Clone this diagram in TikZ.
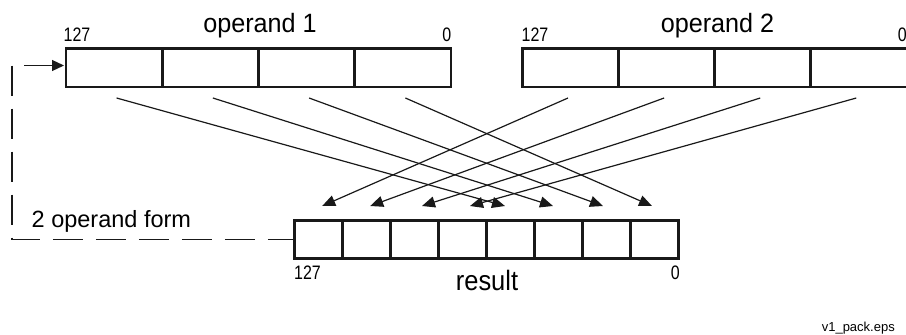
\documentclass[tikz,border=0pt]{standalone}
\usepackage{fontspec}
\setmainfont{Liberation Sans}
\usetikzlibrary{arrows.meta,calc}
\begin{document}
\begin{tikzpicture}[x=1pt,y=-1pt,
  cellbox/.style={draw=black!90, line width=2.6pt, minimum height=38.5pt, inner sep=0pt, outer sep=0pt},
  bigcell/.style={cellbox, minimum width=96.2pt},
  smallcell/.style={cellbox, minimum width=48pt, minimum height=38pt},
  conn/.style={line width=1.2pt, black!90, -{Triangle[length=13pt,width=11pt]}},
  feed/.style={line width=1.2pt, black!90, dash pattern=on 30pt off 13pt},
  numlbl/.style={inner sep=0pt, font=\fontsize{19.5}{19.5}\selectfont},
  biglbl/.style={inner sep=0pt, anchor=base, font=\fontsize{26.5}{26.5}\selectfont},
  txt/.style={inner sep=0pt}]
\path[use as bounding box] (0,0) rectangle (906,335);
\clip (0,0) rectangle (906,335);
% operand 1 cells
\node[bigcell] (a1) at (114.1,67.75) {};
\node[bigcell] (a2) at (210.4,67.75) {};
\node[bigcell] (a3) at (306.6,67.75) {};
\node[bigcell] (a4) at (402.9,67.75) {};
% operand 2 cells
\node[bigcell] (b1) at (570.5,67.75) {};
\node[bigcell] (b2) at (666.6,67.75) {};
\node[bigcell] (b3) at (762.7,67.75) {};
\node[bigcell] (b4) at (858.8,67.75) {};
% result cells
\foreach \i in {1,...,8} {
  \node[smallcell] (r\i) at ({294.7+48*(\i-0.5)},239.7) {};
}
% labels
\node[numlbl, anchor=base west] (l127a) at (63.5,41.5) {\scalebox{0.82}[1]{127}};
\node[numlbl, anchor=base east] (l0a) at (451.5,41.5) {\scalebox{0.82}[1]{0}};
\node[biglbl] (lop1) at (260,32.5) {\scalebox{0.95}[1]{operand 1}};
\node[numlbl, anchor=base west] (l127b) at (521.5,41.5) {\scalebox{0.82}[1]{127}};
\node[numlbl, anchor=base east] (l0b) at (907,41.5) {\scalebox{0.82}[1]{0}};
\node[biglbl] (lop2) at (717.5,32.5) {\scalebox{0.95}[1]{operand 2}};
\node[numlbl, anchor=base west] (l127c) at (294,279.5) {\scalebox{0.82}[1]{127}};
\node[numlbl, anchor=base east] (l0c) at (680,279.5) {\scalebox{0.82}[1]{0}};
\node[biglbl, font=\fontsize{28}{28}\selectfont] (lres) at (487,290) {\scalebox{0.91}[1]{result}};
\node[txt, anchor=base west, font=\fontsize{23.5}{23.5}\selectfont] (lform) at (31.5,227.5) {2 operand form};
\node[txt, anchor=base east, font=\fontsize{13}{13}\selectfont] (lfile) at (895,331.5) {v1\_pack.eps};
% connector start and end points
\foreach \i in {1,...,4} {
  \coordinate (sa\i) at ($(a\i.south)+(2.5,11)$);
  \coordinate (sb\i) at ($(b\i.south)+(-2.5,11)$);
}
\coordinate (t1) at ($(r1.north)+(3.5,-14.7)$);
\coordinate (t2) at ($(r2.north)+(3.5,-14.7)$);
\coordinate (t3) at ($(r3.north)+(7.3,-14.7)$);
\coordinate (t4) at ($(r4.north)+(7.3,-14.7)$);
\coordinate (t5) at ($(r5.north)+(-5.7,-14.7)$);
\coordinate (t6) at ($(r6.north)+(-5.7,-14.7)$);
\coordinate (t7) at ($(r7.north)+(-3.7,-14.7)$);
\coordinate (t8) at ($(r8.north)+(-2.7,-14.7)$);
% connectors
\draw[conn] (sa1) -- (t5);
\draw[conn] (sa2) -- (t6);
\draw[conn] (sa3) -- (t7);
\draw[conn] (sa4) -- (t8);
\draw[conn] (sb1) -- (t1);
\draw[conn] (sb2) -- (t2);
\draw[conn] (sb3) -- (t3);
\draw[conn] (sb4) -- (t4);
% feedback
\coordinate (fb) at (12,65.5);
\coordinate (fbs) at (24,65.5);
\draw[feed] (fb) |- (r1.west);
\draw[conn, -{Triangle[length=12pt,width=11pt]}] (fbs) -- ($(a1.west |- fbs)+(-2,0)$);
\end{tikzpicture}
\end{document}
